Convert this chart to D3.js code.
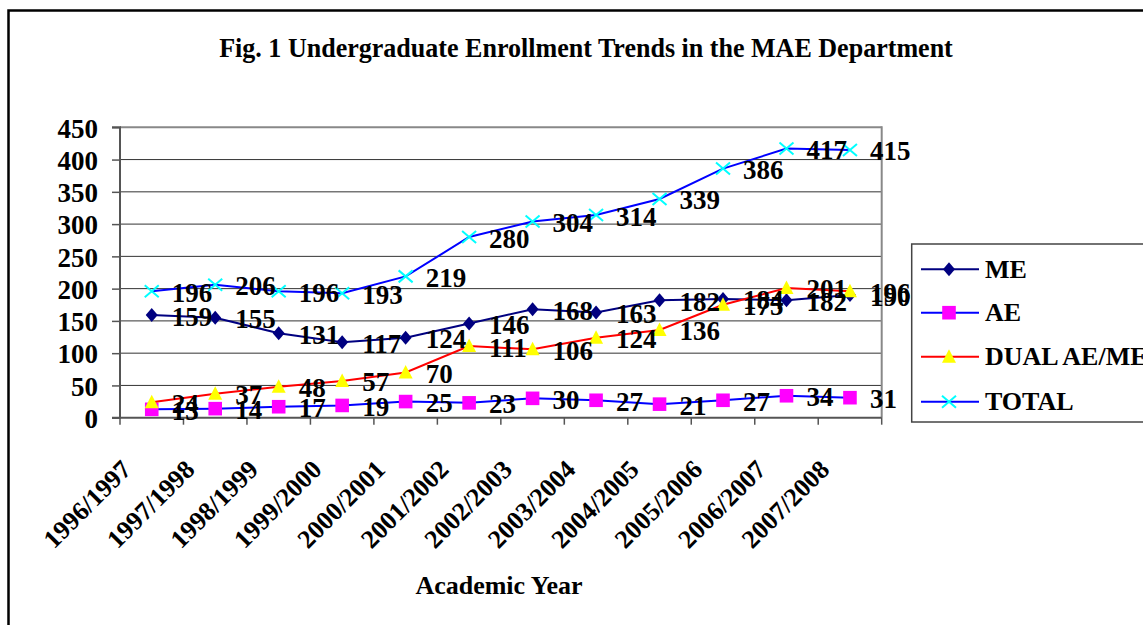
<!DOCTYPE html>
<html><head><meta charset="utf-8">
<script src="https://cdn.jsdelivr.net/npm/d3@7"></script>
<style>
html,body{margin:0;padding:0;background:#fff;overflow:hidden;}
svg text{font-family:"Liberation Serif","Tinos","Times New Roman",Times,"DejaVu Serif","Noto Serif",serif !important;font-weight:bold;fill:#000;}
</style></head>
<body>
<svg id="chart" width="1143" height="625"></svg>
<script>
const categories = ["1996/1997","1997/1998","1998/1999","1999/2000","2000/2001","2001/2002","2002/2003","2003/2004","2004/2005","2005/2006","2006/2007","2007/2008"];
const seriesNames = ["ME","AE","DUAL AE/ME","TOTAL"];
const meValues    = [159,155,131,117,124,146,168,163,182,184,182,190];
const aeValues    = [13,14,17,19,25,23,30,27,21,27,34,31];
const dualValues  = [24,37,48,57,70,111,106,124,136,175,201,196];
const totalValues = [196,206,196,193,219,280,304,314,339,386,417,415];
const yTicks = [0,50,100,150,200,250,300,350,400,450];
const titleText = "Fig. 1 Undergraduate Enrollment Trends in the MAE Department";
const xTitle = "Academic Year";

const svg = d3.select("#chart");
const W = 1143, H = 625;
const plot = {left:120, right:881.7, top:127.3, bottom:417.7};

const x = d3.scaleBand().domain(categories).range([plot.left, plot.right]);
const y = d3.scaleLinear().domain([0,450]).range([plot.bottom, plot.top]);

// outer frame
svg.append("rect").attr("x",8.5).attr("y",10.5).attr("width",W+20).attr("height",H+20)
  .attr("fill","none").attr("stroke","#000").attr("stroke-width",2.5);

// title (condensed to the reference width)
const title = svg.append("text").attr("x",586).attr("y",57).attr("text-anchor","middle")
  .style("font-size","27px").text(titleText);
const tw = title.node().getComputedTextLength();
title.attr("transform",`translate(586,0) scale(${734/tw},1) translate(-586,0)`);

// gridlines
svg.append("g").selectAll("line").data(yTicks.filter(d=>d>0)).join("line")
  .attr("x1",plot.left).attr("x2",plot.right)
  .attr("y1",d=>y(d)).attr("y2",d=>y(d))
  .attr("stroke", d=> d===450 ? "#888" : "#333").attr("stroke-width", d=> d===450 ? 2 : 1);

// plot right border
svg.append("line").attr("x1",plot.right).attr("x2",plot.right).attr("y1",plot.top-1).attr("y2",plot.bottom)
  .attr("stroke","#888").attr("stroke-width",2);

// y axis
const yAxis = d3.axisLeft(y).tickValues(yTicks).tickSize(8).tickPadding(14).tickFormat(d3.format("d"));
const gy = svg.append("g").attr("transform",`translate(${plot.left},0)`).call(yAxis);
gy.attr("font-family",null);
gy.select(".domain").attr("stroke","#555").attr("stroke-width",2).attr("d",`M-8,${plot.top}H0V${plot.bottom}H-8`);
gy.selectAll(".tick line").attr("stroke","#555").attr("stroke-width",1.5);
gy.selectAll(".tick text").style("font-size","27px").attr("dy","0.36em").attr("fill","#000");

// x axis
const bounds = categories.map(c=>x(c)).concat([plot.right]);
svg.append("line").attr("x1",plot.left).attr("x2",plot.right).attr("y1",plot.bottom).attr("y2",plot.bottom)
  .attr("stroke","#555").attr("stroke-width",2);
svg.append("g").selectAll("line").data(bounds).join("line")
  .attr("x1",d=>d).attr("x2",d=>d).attr("y1",plot.bottom).attr("y2",plot.bottom+7)
  .attr("stroke","#555").attr("stroke-width",1.5);
svg.append("g").selectAll("text").data(categories).join("text")
  .attr("text-anchor","end")
  .attr("transform",d=>`translate(${x(d)+x.bandwidth()/2-19},471) rotate(-45)`)
  .style("font-size","26px").text(d=>d);

svg.append("text").attr("x",499).attr("y",594).attr("text-anchor","middle")
  .style("font-size","26px").text(xTitle);

// marker shapes
const markerDefs = {
  diamond: {path:"M0,-7L6,0L0,7L-6,0Z", fill:"#000080", stroke:"none"},
  square:  {path:"M-6.8,-6.8H6.8V6.8H-6.8Z", fill:"#FF00FF", stroke:"none"},
  triangle:{path:"M0,-7.5L7,6L-7,6Z", fill:"#FFFF00", stroke:"none"},
  cross:   {path:"M-7,-6L7,6M-7,6L7,-6", fill:"none", stroke:"#00FFFF"}
};
const series = [
  {name:seriesNames[0], values:meValues,    line:"#000080", marker:"diamond"},
  {name:seriesNames[1], values:aeValues,    line:"#0000FF", marker:"square"},
  {name:seriesNames[2], values:dualValues,  line:"#FF0000", marker:"triangle"},
  {name:seriesNames[3], values:totalValues, line:"#0000FF", marker:"cross"}
];
const cx = c => x(c) + x.bandwidth()/2;
const lineGen = d3.line().x((d,i)=>cx(categories[i])).y(d=>y(d));

function drawMarker(g, m, tx, ty){
  const md = markerDefs[m];
  g.append("path").attr("d",md.path).attr("transform",`translate(${tx},${ty})`)
    .attr("fill",md.fill).attr("stroke",md.stroke).attr("stroke-width",2);
}

const gSeries = svg.append("g");
series.forEach(s=>{
  gSeries.append("path").datum(s.values).attr("d",lineGen)
    .attr("fill","none").attr("stroke",s.line).attr("stroke-width",2);
  s.values.forEach((v,i)=>drawMarker(gSeries, s.marker, cx(categories[i]), y(v)));
});

// data labels
const gLabels = svg.append("g");
series.forEach(s=>{
  gLabels.selectAll(null).data(s.values).join("text")
    .attr("x",(d,i)=>cx(categories[i])+20).attr("y",d=>y(d)+10.5)
    .style("font-size","27px").text(d=>d);
});

// legend
const lg = svg.append("g");
lg.append("rect").attr("x",911.7).attr("y",244).attr("width",260).attr("height",178)
  .attr("fill","#fff").attr("stroke","#444").attr("stroke-width",1.5);
const legendY = [269.3,312.7,356.7,401.7];
series.forEach((s,i)=>{
  lg.append("line").attr("x1",921).attr("x2",979).attr("y1",legendY[i]).attr("y2",legendY[i])
    .attr("stroke",s.line).attr("stroke-width",2);
  drawMarker(lg, s.marker, 949, legendY[i]);
  lg.append("text").attr("x",985).attr("y",legendY[i]+8.5).style("font-size","26px").text(s.name);
});
</script>
</body></html>
